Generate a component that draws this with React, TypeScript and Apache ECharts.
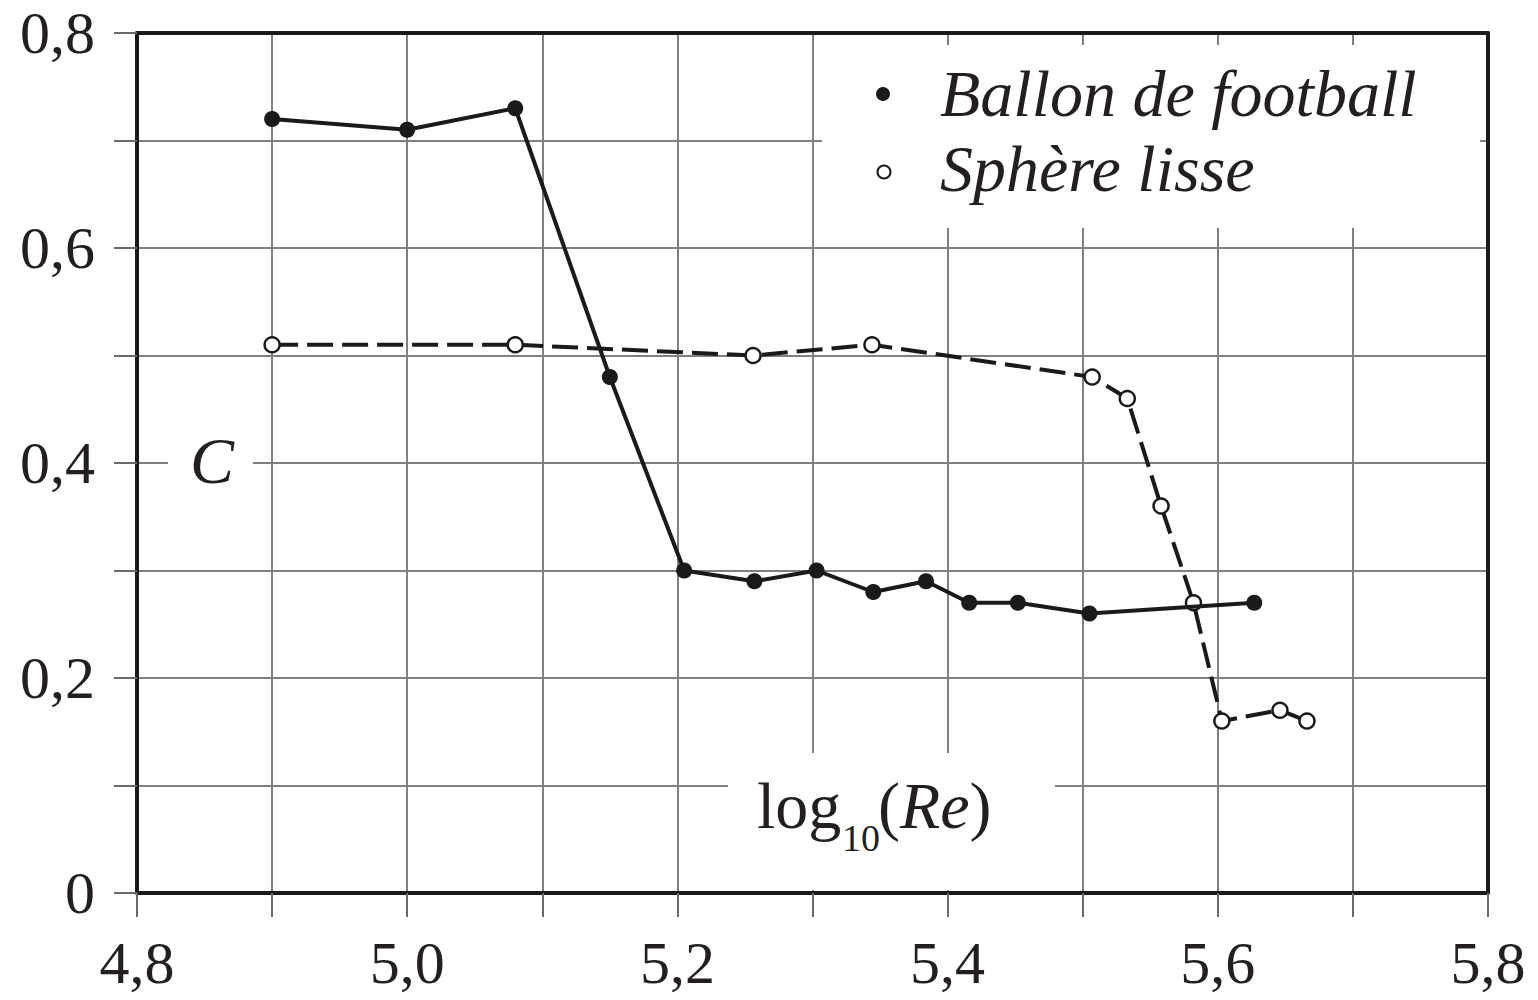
import React, { useEffect, useRef } from "react";
import * as echarts from "echarts";

// ---- Data ----
const footballX = [4.9, 5.0, 5.08, 5.15, 5.205, 5.257, 5.303, 5.345, 5.384, 5.416, 5.452, 5.505, 5.627];
const footballC = [0.72, 0.71, 0.73, 0.48, 0.3, 0.29, 0.3, 0.28, 0.29, 0.27, 0.27, 0.26, 0.27];
const sphereX = [4.9, 5.08, 5.256, 5.344, 5.507, 5.533, 5.558, 5.582, 5.603, 5.646, 5.666];
const sphereC = [0.51, 0.51, 0.5, 0.51, 0.48, 0.46, 0.36, 0.27, 0.16, 0.17, 0.16];

const xTickLabels = ["4,8", "5,0", "5,2", "5,4", "5,6", "5,8"];
const yTickLabels = ["0", "0,2", "0,4", "0,6", "0,8"];

const seriesNames = ["Ballon de football", "Sphère lisse"];
const yAxisName = "C";

const INK = "#231f20";
const GRID = "#808080";
const SERIF = "Liberation Serif";

function xLabel(v: number): string {
  const idx = Math.round((v - 4.8) * 10);
  return idx % 2 === 0 ? xTickLabels[idx / 2] ?? "" : "";
}
function yLabel(v: number): string {
  const idx = Math.round(v * 10);
  return idx % 2 === 0 ? yTickLabels[idx / 2] ?? "" : "";
}

export default function App() {
  const ref = useRef<HTMLDivElement>(null);

  useEffect(() => {
    document.body.style.margin = "0";
    const el = ref.current;
    if (!el) return;
    const chart = echarts.init(el, null, { renderer: "svg" });

    const frame = { show: true, onZero: false, lineStyle: { color: "#1a1a1a", width: 4 } };

    const option: any = {
      animation: false,
      backgroundColor: "#ffffff",
      grid: { left: 137, right: 50, top: 33, bottom: 107 },
      xAxis: [
        {
          type: "value",
          min: 4.8,
          max: 5.8,
          interval: 0.1,
          axisLine: frame,
          axisTick: { show: true, inside: false, length: 24, lineStyle: { color: "#6a6a6a", width: 2 } },
          axisLabel: {
            formatter: xLabel,
            fontSize: 60,
            fontFamily: SERIF,
            color: INK,
            margin: 40,
            showMinLabel: true,
            showMaxLabel: true,
          },
          splitLine: { show: true, lineStyle: { color: GRID, width: 2 } },
        },
        {
          type: "value",
          position: "top",
          min: 4.8,
          max: 5.8,
          axisLine: frame,
          axisTick: { show: false },
          axisLabel: { show: false },
          splitLine: { show: false },
        },
      ],
      yAxis: [
        {
          type: "value",
          min: 0,
          max: 0.8,
          interval: 0.1,
          axisLine: frame,
          axisTick: { show: true, inside: false, length: 23, lineStyle: { color: "#6a6a6a", width: 2 } },
          axisLabel: {
            formatter: yLabel,
            fontSize: 60,
            fontFamily: SERIF,
            color: INK,
            margin: 42,
            showMinLabel: true,
            showMaxLabel: true,
          },
          splitLine: { show: true, lineStyle: { color: GRID, width: 2 } },
        },
        {
          type: "value",
          position: "right",
          min: 0,
          max: 0.8,
          axisLine: frame,
          axisTick: { show: false },
          axisLabel: { show: false },
          splitLine: { show: false },
        },
      ],
      series: [
        {
          name: seriesNames[0],
          type: "line",
          xAxisIndex: 0,
          yAxisIndex: 0,
          data: footballX.map((x, i) => [x, footballC[i]]),
          symbol: "circle",
          symbolSize: 16,
          itemStyle: { color: "#1a1a1a" },
          lineStyle: { color: "#1a1a1a", width: 4 },
          z: 4,
        },
        {
          name: seriesNames[1],
          type: "line",
          xAxisIndex: 0,
          yAxisIndex: 0,
          data: sphereX.map((x, i) => [x, sphereC[i]]),
          symbol: "circle",
          symbolSize: 15,
          itemStyle: { color: "#ffffff", borderColor: "#1a1a1a", borderWidth: 2.5 },
          lineStyle: { color: "#1a1a1a", width: 4, type: [26, 9] },
          z: 3,
        },
      ],
      graphic: [
        // Legend box
        { type: "rect", z: 10, shape: { x: 822, y: 45, width: 658, height: 183 }, style: { fill: "#ffffff" } },
        { type: "circle", z: 11, shape: { cx: 883, cy: 94, r: 7 }, style: { fill: "#1a1a1a" } },
        { type: "circle", z: 11, shape: { cx: 884, cy: 172, r: 6.5 }, style: { fill: "#ffffff", stroke: "#1a1a1a", lineWidth: 2 } },
        {
          type: "text", z: 11, x: 940, y: 93,
          style: { text: seriesNames[0], fontSize: 66, fontStyle: "italic", fontFamily: SERIF, fill: INK, align: "left", verticalAlign: "middle" },
        },
        {
          type: "text", z: 11, x: 940, y: 168,
          style: { text: seriesNames[1], fontSize: 66, fontStyle: "italic", fontFamily: SERIF, fill: INK, align: "left", verticalAlign: "middle" },
        },
        // C label
        { type: "rect", z: 10, shape: { x: 168, y: 425, width: 85, height: 75 }, style: { fill: "#ffffff" } },
        {
          type: "text", z: 11, x: 212, y: 460,
          style: { text: yAxisName, fontSize: 66, fontStyle: "italic", fontFamily: SERIF, fill: INK, align: "center", verticalAlign: "middle" },
        },
        // log10(Re) label
        { type: "rect", z: 10, shape: { x: 728, y: 753, width: 327, height: 137 }, style: { fill: "#ffffff" } },
        {
          type: "text", z: 11, x: 757, y: 805,
          style: { text: "log", fontSize: 66, fontFamily: SERIF, fill: INK, align: "left", verticalAlign: "middle" },
        },
        {
          type: "text", z: 11, x: 842, y: 838,
          style: { text: "10", fontSize: 38, fontFamily: SERIF, fill: INK, align: "left", verticalAlign: "middle" },
        },
        {
          type: "text", z: 11, x: 878, y: 805,
          style: {
            text: "{a|(}{i|Re}{a|)}",
            fontSize: 66, fontFamily: SERIF, fill: INK, align: "left", verticalAlign: "middle",
            rich: {
              a: { fontSize: 66, fontFamily: SERIF, fill: INK },
              i: { fontSize: 66, fontFamily: SERIF, fontStyle: "italic", fill: INK },
            },
          },
        },
      ],
    };

    chart.setOption(option);
    return () => chart.dispose();
  }, []);

  return <div ref={ref} style={{ width: 1538, height: 1000 }} />;
}
